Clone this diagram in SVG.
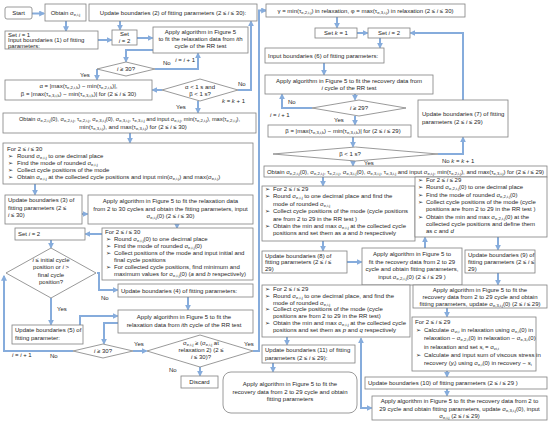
<svg xmlns="http://www.w3.org/2000/svg" width="550" height="436" viewBox="0 0 550 436">
<style>
.b{fill:#fff;stroke:#808080;stroke-width:0.8}
.t{font-family:"Liberation Sans",Arial,sans-serif;font-size:6px;fill:#262626}
.c{text-anchor:middle}
.s{font-size:4.2px;baseline-shift:-1.3px}
.e{font-style:italic}
.cn{fill:none;stroke:#86acdc;stroke-width:2}
</style>
<defs>
<marker id="a" viewBox="0 0 10 10" refX="8" refY="5" markerUnits="userSpaceOnUse" markerWidth="6" markerHeight="6" orient="auto-start-reverse"><path d="M0,0 L10,5 L0,10 z" fill="#86acdc"/></marker>
</defs>
<rect width="550" height="436" fill="#fff"/>

<g id="connectors">
<path class="cn" d="M32,13.5 H44" marker-end="url(#a)"/>
<path class="cn" d="M66,21 V31" marker-end="url(#a)"/>
<path class="cn" d="M120,21 V29.5" marker-end="url(#a)"/>
<path class="cn" d="M98,40 H111.5" marker-end="url(#a)"/>
<path class="cn" d="M137,38 H152.5" marker-end="url(#a)"/>
<path class="cn" d="M153,50 H126 V61.5" marker-end="url(#a)"/>
<path class="cn" d="M155,69 H198 V53.5" marker-end="url(#a)"/>
<path class="cn" d="M97,69 V79.5" marker-end="url(#a)"/>
<path class="cn" d="M162,90 H152.5" marker-end="url(#a)"/>
<path class="cn" d="M238,90 H251 V21.5" marker-end="url(#a)"/>
<path class="cn" d="M198,101 V112.5" marker-end="url(#a)"/>
<path class="cn" d="M130,133 V142.5" marker-end="url(#a)"/>
<path class="cn" d="M35,184 V194.5" marker-end="url(#a)"/>
<path class="cn" d="M82,214 H87.5" marker-end="url(#a)"/>
<path class="cn" d="M177,224 V228" marker-end="url(#a)"/>
<path class="cn" d="M102,234 H85.5" marker-end="url(#a)"/>
<path class="cn" d="M51,240 V247.5" marker-end="url(#a)"/>
<path class="cn" d="M97,273 H99 V290 H117.5" marker-end="url(#a)"/>
<path class="cn" d="M188,297 V309.5" marker-end="url(#a)"/>
<path class="cn" d="M51,298 V324.5" marker-end="url(#a)"/>
<path class="cn" d="M80,325 V316 H117.5" marker-end="url(#a)"/>
<path class="cn" d="M118,323 H104 V343.5" marker-end="url(#a)"/>
<path class="cn" d="M73,351 H4 V276" marker-end="url(#a)"/>
<path class="cn" d="M133,351 H146.5" marker-end="url(#a)"/>
<path class="cn" d="M253,351 H259 V10.5 H266" marker-end="url(#a)"/>
<path class="cn" d="M200,367 V375.5" marker-end="url(#a)"/>
<path class="cn" d="M337,17 V27.5" marker-end="url(#a)"/>
<path class="cn" d="M357,33 H367.5" marker-end="url(#a)"/>
<path class="cn" d="M463,100 V33 H410.5" marker-end="url(#a)"/>
<path class="cn" d="M380,38 V47.5" marker-end="url(#a)"/>
<path class="cn" d="M324,63 V74.5" marker-end="url(#a)"/>
<path class="cn" d="M355,94 V99.5" marker-end="url(#a)"/>
<path class="cn" d="M312,108 H282 V94.5" marker-end="url(#a)"/>
<path class="cn" d="M355,116 V124.5" marker-end="url(#a)"/>
<path class="cn" d="M353,137 V146.5" marker-end="url(#a)"/>
<path class="cn" d="M438,154 H463 V137.5" marker-end="url(#a)"/>
<path class="cn" d="M353,161 V165.5" marker-end="url(#a)"/>
<path class="cn" d="M323,177 V185.5" marker-end="url(#a)"/>
<path class="cn" d="M323,241 V250.5" marker-end="url(#a)"/>
<path class="cn" d="M347,262 H361.5" marker-end="url(#a)"/>
<path class="cn" d="M425,248 V237.5" marker-end="url(#a)"/>
<path class="cn" d="M498,237 V249.5" marker-end="url(#a)"/>
<path class="cn" d="M498,273 V284.5" marker-end="url(#a)"/>
<path class="cn" d="M447,308 V316.5" marker-end="url(#a)"/>
<path class="cn" d="M447,371 V376.5" marker-end="url(#a)"/>
<path class="cn" d="M447,389 V395.5" marker-end="url(#a)"/>
<path class="cn" d="M361,338.5 V408 H371.5" marker-start="url(#a)" marker-end="url(#a)"/>
<path class="cn" d="M287,337 V344.5" marker-end="url(#a)"/>
<path class="cn" d="M273,363 V371.5" marker-end="url(#a)"/>
</g>

<g id="labels" class="t">
<text x="163" y="65">No</text>
<text x="195" y="62" text-anchor="end"><tspan class="e">i</tspan> = <tspan class="e">i</tspan> + 1</text>
<text x="80" y="77">Yes</text>
<text x="238" y="86">No</text>
<text x="222" y="103"><tspan class="e">k</tspan> = <tspan class="e">k</tspan> + 1</text>
<text x="176" y="109">Yes</text>
<text x="101" y="300">No</text>
<text x="57" y="311">Yes</text>
<text x="12" y="357"><tspan class="e">i</tspan> = <tspan class="e">i</tspan> + 1</text>
<text x="50" y="358">No</text>
<text x="134" y="346">Yes</text>
<text x="244" y="346">Yes</text>
<text x="169" y="372">No</text>
<text x="288" y="104">No</text>
<text x="270" y="117"><tspan class="e">i</tspan> = <tspan class="e">i</tspan> + 1</text>
<text x="334" y="122">Yes</text>
<text x="442" y="163">No  <tspan class="e">k</tspan> = <tspan class="e">k</tspan> + 1</text>
<text x="364" y="165">Yes</text>
</g>

<g id="start"><rect class="b" x="5" y="7" width="27" height="12" rx="2"/><text class="t c" x="18.5" y="15">Start</text></g>
<g id="obtain1"><rect class="b" x="45" y="4" width="41" height="17"/><text class="t c" x="65.5" y="14.5">Obtain σ<tspan class="s">e,i,j</tspan></text></g>
<g id="upd2"><rect class="b" x="89" y="4" width="168" height="17"/><text class="t c" x="173" y="14.5">Update boundaries  (2) of fitting parameters  (2 ≤ <tspan class="e">i</tspan> ≤ 30):</text></g>
<g id="set1"><rect class="b" x="5" y="31" width="93" height="18"/><text class="t" x="8" y="36.5">Set <tspan class="e">i</tspan>  =  1<tspan x="8" y="42">Input boundaries  (1) of fitting</tspan><tspan x="8" y="47.5">parameters:</tspan></text></g>
<g id="set2"><rect class="b" x="112" y="30" width="25" height="15"/><text class="t c" x="124.5" y="36">Set<tspan x="124.5" y="43"><tspan class="e">i</tspan>  =  2</tspan></text></g>
<g id="apply1"><rect class="b" x="153" y="27" width="95" height="26"/><text class="t c" x="200.5" y="34">Apply algorithm  in Figure 5<tspan x="200.5" y="41">to fit the relaxation data from <tspan class="e">i</tspan>th</tspan><tspan x="200.5" y="48">cycle of the RR test</tspan></text></g>
<g id="dec1"><polygon class="b" points="97,69 126,62 155,69 126,76"/><text class="t c" x="126" y="71"><tspan class="e">i</tspan>  ≥  30?</text></g>
<g id="alphabeta"><rect class="b" x="5" y="80" width="147" height="20"/><text class="t c" x="78.5" y="88">α  =  |max(τ<tspan class="s">e,2,i,k</tspan>)  −  min(τ<tspan class="s">e,2,i,k</tspan>)|,<tspan x="78.5" y="96">β  =  |max(τ<tspan class="s">e,3,i,k</tspan>)  −  min(τ<tspan class="s">e,3,i,k</tspan>)| for (2 ≤  <tspan class="e">i</tspan>  ≤ 30)</tspan></text></g>
<g id="dec2"><polygon class="b" points="162,90 200,79 238,90 200,101"/><text class="t c" x="200" y="89">α &lt; 1 s and<tspan x="200" y="96">β &lt; 1 s?</tspan></text></g>
<g id="obtain2"><rect class="b" x="3" y="113" width="253" height="20"/><text class="t c" x="129.5" y="121" style="font-size:5.6px">Obtain σ<tspan class="s">e,2,i,j</tspan>(0), σ<tspan class="s">e,2,i,j</tspan>, τ<tspan class="s">e,2,i,j</tspan>, σ<tspan class="s">e,3,i,j</tspan>(0), σ<tspan class="s">e,3,i,j</tspan>, τ<tspan class="s">e,3,i,j</tspan> and input σ<tspan class="s">e,i,j</tspan>, min(τ<tspan class="s">e,2,i,j</tspan>), max(τ<tspan class="s">e,2,i,j</tspan>),</text><text class="t c" x="133" y="129">min(τ<tspan class="s">e,3,i,j</tspan>), and max(τ<tspan class="s">e,3,i,j</tspan>) for (2 ≤  <tspan class="e">i</tspan>  ≤ 30)</text></g>
<g id="for1"><rect class="b" x="3" y="143" width="250" height="41"/><text class="t" x="7" y="151">For 2 ≤  <tspan class="e">i</tspan>  ≤ 30<tspan x="8" y="158">➢</tspan><tspan x="17">Round σ<tspan class="s">e,i,j</tspan> to one decimal place</tspan><tspan x="8" y="165">➢</tspan><tspan x="17">Find the mode of rounded σ<tspan class="s">e,i,j</tspan></tspan><tspan x="8" y="172">➢</tspan><tspan x="17">Collect cycle positions of the mode</tspan><tspan x="8" y="179">➢</tspan><tspan x="17">Obtain σ<tspan class="s">e,i,j</tspan> at the collected cycle positions and input min(σ<tspan class="s">e,i,j</tspan>) and max(σ<tspan class="s">e,i,j</tspan>)</tspan></text></g>
<g id="upd3"><rect class="b" x="5" y="195" width="77" height="29"/><text class="t" x="8" y="202">Update boundaries  (3) of<tspan x="8" y="209.5">fitting parameters  (2 ≤</tspan><tspan x="8" y="217"><tspan class="e">i</tspan>  ≤ 30)</tspan></text></g>
<g id="apply2"><rect class="b" x="88" y="195" width="165" height="29"/><text class="t c" x="170.5" y="203">Apply algorithm  in Figure 5 to fit the relaxation  data<tspan x="170.5" y="210.5">from 2 to 30 cycles and obtain the fitting parameters,  input</tspan><tspan x="170.5" y="218">σ<tspan class="s">e,i,j</tspan>(0) (2 ≤  <tspan class="e">i</tspan>  ≤ 30)</tspan></text></g>
<g id="set3"><rect class="b" x="15" y="228" width="70" height="12"/><text class="t" x="18" y="236">Set <tspan class="e">i</tspan>  =  2</text></g>
<g id="for2"><rect class="b" x="102" y="228" width="151" height="52"/><text class="t" x="105" y="233.5">For 2 ≤  <tspan class="e">i</tspan>  ≤ 30<tspan x="106" y="240.5">➢</tspan><tspan x="114">Round σ<tspan class="s">e,i,j</tspan>(0) to one decimal place</tspan><tspan x="106" y="247.5">➢</tspan><tspan x="114">Find the mode of rounded σ<tspan class="s">e,i,j</tspan>(0)</tspan><tspan x="106" y="254.5">➢</tspan><tspan x="114">Collect positions of the mode and input initial and</tspan><tspan x="114" y="261.5">final cycle positions</tspan><tspan x="106" y="268.5">➢</tspan><tspan x="114">For collected cycle positions, find minimum and</tspan><tspan x="114" y="275.5">maximum values for σ<tspan class="s">e,i,j</tspan>(0) (<tspan class="e">a</tspan> and <tspan class="e">b</tspan> respectively)</tspan></text></g>
<g id="dec3"><polygon class="b" points="6,273 51,248 96,273 51,298"/><text class="t c" x="51" y="262"><tspan class="e">i</tspan> ≤ initial cycle<tspan x="51" y="269">position or <tspan class="e">i</tspan> &gt;</tspan><tspan x="51" y="276.5">final cycle</tspan><tspan x="51" y="284">position?</tspan></text></g>
<g id="upd4"><rect class="b" x="118" y="284" width="135" height="13"/><text class="t" x="121" y="292.5">Update boundaries  (4) of fitting parameters:</text></g>
<g id="apply3"><rect class="b" x="118" y="310" width="135" height="23"/><text class="t c" x="184" y="319">Apply algorithm  in Figure 5 to fit the<tspan x="184" y="326.5">relaxation  data from <tspan class="e">i</tspan>th cycle of the RR test</tspan></text></g>
<g id="upd5"><rect class="b" x="12" y="325" width="71" height="19"/><text class="t" x="15" y="332">Update boundaries  (5) of<tspan x="15" y="339.5">fitting parameter:</tspan></text></g>
<g id="dec4"><polygon class="b" points="73,351 103,344 133,351 103,358"/><text class="t c" x="103" y="353"><tspan class="e">i</tspan>  ≥  30?</text></g>
<g id="dec5"><polygon class="b" points="147,351 200,335 253,351 200,367"/><text class="t c" x="201" y="345">σ<tspan class="s">e,i,j</tspan> ≥ (σ<tspan class="s">e,i,j</tspan> at<tspan x="201" y="352">relaxation 2) (2 ≤</tspan><tspan x="201" y="359"><tspan class="e">i</tspan>  ≤ 30)?</tspan></text></g>
<g id="discard"><rect class="b" x="181" y="376" width="37" height="12"/><text class="t c" x="199.5" y="384">Discard</text></g>

<g id="gamma"><rect class="b" x="266" y="4" width="199" height="13"/><text class="t c" x="365.5" y="12.5">γ = min(τ<tspan class="s">e,2,i,j</tspan>) in relaxation,  φ  =  max(τ<tspan class="s">e,3,i,j</tspan>) in relaxation  (2 ≤  <tspan class="e">i</tspan>  ≤ 30)</text></g>
<g id="setk"><rect class="b" x="315" y="28" width="42" height="10"/><text class="t c" x="336" y="35">Set <tspan class="e">k</tspan>  =  1</text></g>
<g id="seti2"><rect class="b" x="368" y="28" width="42" height="10"/><text class="t c" x="389" y="35">Set <tspan class="e">i</tspan>  =  2</text></g>
<g id="input6"><rect class="b" x="265" y="48" width="119" height="15"/><text class="t" x="268" y="57.5">Input boundaries  (6) of fitting parameters:</text></g>
<g id="apply4"><rect class="b" x="265" y="75" width="168" height="19"/><text class="t c" x="349" y="82.5">Apply algorithm  in Figure 5 to fit the recovery data from<tspan x="349" y="90"><tspan class="e">i</tspan> cycle of the RR test</tspan></text></g>
<g id="dec6"><polygon class="b" points="312,108 359,100 406,108 359,116"/><text class="t c" x="359" y="110"><tspan class="e">i</tspan>  ≥  29?</text></g>
<g id="beta"><rect class="b" x="268" y="125" width="143" height="12"/><text class="t c" x="343" y="133">β  =  |max(τ<tspan class="s">e,3,i,k</tspan>)  −  min(τ<tspan class="s">e,3,i,k</tspan>)| for (2 ≤  <tspan class="e">i</tspan>  ≤ 29)</text></g>
<g id="dec7"><polygon class="b" points="273,154 355.5,147 438,154 355.5,161"/><text class="t c" x="350" y="156">β &lt; 1 s?</text></g>
<g id="upd7"><rect class="b" x="418" y="100" width="90" height="37"/><text class="t" x="422" y="116">Update boundaries  (7) of fitting<tspan x="422" y="124">parameters  (2 ≤  <tspan class="e">i</tspan>  ≤ 29)</tspan></text></g>
<g id="obtain3"><rect class="b" x="264" y="166" width="283" height="11"/><text class="t c" x="405.5" y="173.5" textLength="277" lengthAdjust="spacingAndGlyphs">Obtain σ<tspan class="s">e,2,i,j</tspan>(0), σ<tspan class="s">e,2,i,j</tspan>, τ<tspan class="s">e,2,i,j</tspan>, σ<tspan class="s">e,3,i,j</tspan>(0), σ<tspan class="s">e,3,i,j</tspan>, τ<tspan class="s">e,3,i,j</tspan> and input σ<tspan class="s">e,i,j</tspan>, min(τ<tspan class="s">e,2,i,j</tspan>), and max(τ<tspan class="s">e,3,i,j</tspan>) for (2 ≤  <tspan class="e">i</tspan>  ≤ 29)</text></g>
<g id="forab"><rect class="b" x="262" y="186" width="153" height="55"/><text class="t" x="265" y="191">➢<tspan x="273">For 2 ≤  <tspan class="e">i</tspan>  ≤ 29</tspan><tspan x="265" y="198.4">➢</tspan><tspan x="273">Round σ<tspan class="s">e,i,j</tspan> to one decimal place and find the</tspan><tspan x="273" y="205.8">mode of rounded σ<tspan class="s">e,i,j</tspan></tspan><tspan x="265" y="213.2">➢</tspan><tspan x="273">Collect cycle positions of the mode (cycle positions</tspan><tspan x="273" y="220.6">are from 2 to 29 in the RR test )</tspan><tspan x="265" y="228">➢</tspan><tspan x="273">Obtain the min and max σ<tspan class="s">e,i,j</tspan> at the collected cycle</tspan><tspan x="273" y="235.4">positions and set them as <tspan class="e">a</tspan> and <tspan class="e">b</tspan> respectively</tspan></text></g>
<g id="forcd"><rect class="b" x="415" y="177" width="132" height="60"/><text class="t" x="418" y="182">➢<tspan x="426">For 2 ≤  <tspan class="e">i</tspan>  ≤ 29</tspan><tspan x="418" y="189.3">➢</tspan><tspan x="426">Round σ<tspan class="s">e,2,i,j</tspan>(0) to one decimal place</tspan><tspan x="418" y="196.6">➢</tspan><tspan x="426">Find the mode of rounded σ<tspan class="s">e,2,i,j</tspan>(0)</tspan><tspan x="418" y="203.9">➢</tspan><tspan x="426">Collect cycle positions of the mode (cycle</tspan><tspan x="426" y="211.2">positions are from 2 to 29 in the RR test )</tspan><tspan x="418" y="218.5">➢</tspan><tspan x="426">Obtain the min and max σ<tspan class="s">e,2,i,j</tspan>(0) at the</tspan><tspan x="426" y="225.8">collected cycle positions and define them</tspan><tspan x="426" y="233.1">as <tspan class="e">c</tspan> and <tspan class="e">d</tspan></tspan></text></g>
<g id="upd8"><rect class="b" x="262" y="251" width="85" height="22"/><text class="t" x="265" y="257.5">Update boundaries  (8) of<tspan x="265" y="264">fitting parameters  (2 ≤  <tspan class="e">i</tspan>  ≤</tspan><tspan x="265" y="270.5">29)</tspan></text></g>
<g id="apply5"><rect class="b" x="362" y="248" width="100" height="37"/><text class="t c" x="412" y="256">Apply algorithm  in Figure 5 to<tspan x="412" y="263.5">fit the recovery data from 2 to 29</tspan><tspan x="412" y="271">cycle and obtain fitting parameters,</tspan><tspan x="412" y="278.5">input σ<tspan class="s">e,2,i,j</tspan>(0) (2 ≤  <tspan class="e">i</tspan>  ≤ 29 )</tspan></text></g>
<g id="upd9"><rect class="b" x="465" y="250" width="70" height="23"/><text class="t" x="468" y="256.5">Update boundaries  (9) of<tspan x="468" y="263.5">fitting parameters  (2 ≤  <tspan class="e">i</tspan>  ≤</tspan><tspan x="468" y="270.5">29)</tspan></text></g>
<g id="apply6"><rect class="b" x="413" y="285" width="134" height="23"/><text class="t c" x="480" y="291.5">Apply algorithm  in Figure 5  to fit the<tspan x="480" y="298.5">recovery data from 2 to 29 cycle and obtain</tspan><tspan x="480" y="305.5">fitting parameters,  update σ<tspan class="s">e,3,i,j</tspan>(0) (2 ≤  <tspan class="e">i</tspan>  ≤ 29)</tspan></text></g>
<g id="forpq"><rect class="b" x="262" y="285" width="148" height="52"/><text class="t" x="265" y="291">➢<tspan x="273">For 2 ≤  <tspan class="e">i</tspan>  ≤ 29</tspan><tspan x="265" y="297.8">➢</tspan><tspan x="273">Round σ<tspan class="s">e,i,j</tspan> to one decimal place, and find the</tspan><tspan x="273" y="304.6">mode of rounded σ<tspan class="s">e,i,j</tspan></tspan><tspan x="265" y="311.4">➢</tspan><tspan x="273">Collect cycle positions of the mode (cycle</tspan><tspan x="273" y="318.2">positions are from 2 to 29 in the RR test)</tspan><tspan x="265" y="325">➢</tspan><tspan x="273">Obtain the min and max σ<tspan class="s">e,i,j</tspan> at the collected cycle</tspan><tspan x="273" y="331.8">positions and set them as <tspan class="e">p</tspan> and <tspan class="e">q</tspan> respectively</tspan></text></g>
<g id="calc"><rect class="b" x="412" y="317" width="124" height="54"/><text class="t" x="415" y="324">For 2 ≤  <tspan class="e">i</tspan>  ≤ 29<tspan x="416" y="332.2">➢</tspan><tspan x="424">Calculate σ<tspan class="s">vi,i</tspan> in relaxation using σ<tspan class="s">e,i</tspan>(0) in</tspan><tspan x="424" y="340.4">relaxation − σ<tspan class="s">e,2,i</tspan>(0) in relaxation − σ<tspan class="s">e,3,i</tspan>(0)</tspan><tspan x="424" y="348.6">in relaxation and set <tspan class="e">s</tspan><tspan class="s">i</tspan> = σ<tspan class="s">vi,i</tspan></tspan><tspan x="416" y="356.8">➢</tspan><tspan x="424">Calculate and input sum of viscous stress in</tspan><tspan x="424" y="365">recovery (<tspan class="e">y</tspan><tspan class="s">i</tspan>) using σ<tspan class="s">e,i</tspan>(0) in recovery − <tspan class="e">s</tspan><tspan class="s">i</tspan></tspan></text></g>
<g id="upd10"><rect class="b" x="365" y="377" width="182" height="12"/><text class="t" x="368" y="385">Update boundaries  (10) of fitting parameters  (2 ≤  <tspan class="e">i</tspan>  ≤ 29 )</text></g>
<g id="apply7"><rect class="b" x="372" y="396" width="175" height="24"/><text class="t c" x="459.5" y="403">Apply algorithm in Figure 5  to fit the recovery data from 2 to<tspan x="459.5" y="410.5">29 cycle and obtain fitting parameters,  update σ<tspan class="s">e,3,i,j</tspan>(0), input</tspan><tspan x="459.5" y="418">σ<tspan class="s">e,i,j</tspan> (2 ≤  <tspan class="e">i</tspan>  ≤ 29)</tspan></text></g>
<g id="upd11"><rect class="b" x="262" y="345" width="93" height="18"/><text class="t" x="265" y="352">Update boundaries  (11) of fitting<tspan x="265" y="359.5">parameters  (2 ≤  <tspan class="e">i</tspan>  ≤ 29):</tspan></text></g>
<g id="apply8"><rect class="b" x="223" y="372" width="134" height="41" rx="8"/><text class="t c" x="290" y="386">Apply algorithm  in Figure 5 to fit the<tspan x="290" y="393.5">recovery data from 2 to 29 cycle and obtain</tspan><tspan x="290" y="401">fitting parameters</tspan></text></g>
</svg>
